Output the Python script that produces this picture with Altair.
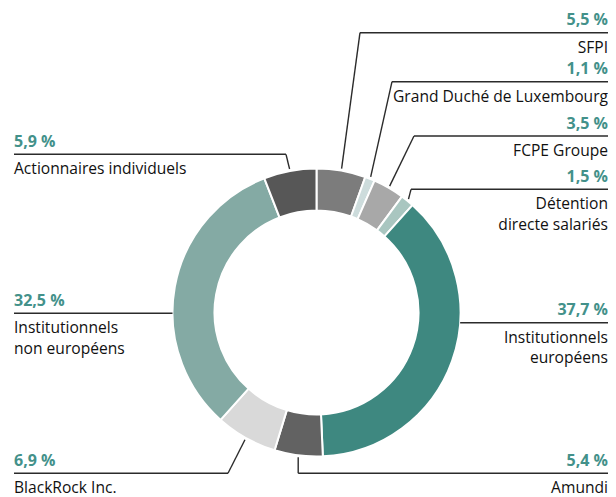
import math
import pandas as pd
import altair as alt

# ---------------- data ----------------
names = ["SFPI", "Grand Duché de Luxembourg", "FCPE Groupe",
         "Détention\ndirecte salariés", "Institutionnels\neuropéens", "Amundi",
         "BlackRock Inc.", "Institutionnels\nnon européens", "Actionnaires individuels"]
values = [5.5, 1.1, 3.5, 1.5, 37.7, 5.4, 6.9, 32.5, 5.9]
colors = ["#7c7c7c", "#cddcdc", "#a8a8a8", "#a9c6c0", "#3e8880",
          "#626262", "#d9d9d9", "#84aaa4", "#575757"]

# ---------------- layout ----------------
W, H = 600, 489
CX, CY = 308.5, 304.5
R_OUT, R_IN = 144, 102
X_LEFT, X_RIGHT = 6, 600
FONT = "Open Sans"
TEAL = "#43918a"

side = ["R", "R", "R", "R", "R", "R", "L", "L", "L"]
line_y = [24.7, 73.7, 128, 181.3, 314.7, 465.3, 465.3, 305.3, 146.3]
leader = ["slant", "slant", "slant", "slant", "horiz", "vert", "slant", "horiz", "slant"]
elbow_x = [352, 384, 406, 403, None, None, 220, None, 278]

total = sum(values)
slices = pd.DataFrame({"key": list(range(len(names))), "value": values})

rules, rtext, ltext = [], [], []
cum = 0.0
for i, v in enumerate(values):
    mid = 2 * math.pi * (cum + v / 2) / total
    cum += v
    ly = line_y[i]
    if leader[i] == "horiz":
        dx = math.sqrt(max(R_OUT ** 2 - (ly - CY) ** 2, 0))
        ex = CX + dx if side[i] == "R" else CX - dx
    else:
        r = R_OUT + 2
        ax, ay = CX + r * math.sin(mid), CY - r * math.cos(mid)
        ex = ax if leader[i] == "vert" else elbow_x[i]
        rules.append({"x": ax, "y": ay, "x2": ex, "y2": ly})
    if side[i] == "R":
        rules.append({"x": ex, "y": ly, "x2": X_RIGHT, "y2": ly})
    else:
        rules.append({"x": X_LEFT, "y": ly, "x2": ex, "y2": ly})
    pct = f"{v:.1f}".replace(".", ",") + " %"
    row = {"tx": X_RIGHT if side[i] == "R" else X_LEFT,
           "py": ly - 7.5, "ny": ly + 20, "pct": pct, "name": names[i]}
    (rtext if side[i] == "R" else ltext).append(row)

rules = pd.DataFrame(rules)
rtext = pd.DataFrame(rtext)
ltext = pd.DataFrame(ltext)

xs = alt.Scale(domain=[0, W], range=[0, W], nice=False, zero=False)
ys = alt.Scale(domain=[0, H], range=[0, H], nice=False, zero=False)

arc = alt.Chart(slices).mark_arc(
    outerRadius=R_OUT, innerRadius=R_IN, stroke="white", strokeWidth=2
).encode(
    theta=alt.Theta("value:Q", stack=True),
    order=alt.Order("key:Q"),
    color=alt.Color("key:N", scale=alt.Scale(domain=list(range(len(names))), range=colors), legend=None),
    x=alt.value(CX), y=alt.value(CY),
)

rule = alt.Chart(rules).mark_rule(color="#2b2b2b", strokeWidth=1.4).encode(
    x=alt.X("x:Q", scale=xs, axis=None), x2="x2:Q",
    y=alt.Y("y:Q", scale=ys, axis=None), y2="y2:Q",
)

def texts(df, align):
    base = alt.Chart(df)
    p = base.mark_text(align=align, baseline="alphabetic", font=FONT, fontSize=16,
                       fontWeight="bold", color=TEAL).encode(
        x=alt.X("tx:Q", scale=xs, axis=None), y=alt.Y("py:Q", scale=ys, axis=None), text="pct:N")
    n = base.mark_text(align=align, baseline="alphabetic", font=FONT, fontSize=15.6,
                       fontWeight=500, color="#111111", lineBreak="\n", lineHeight=20.5).encode(
        x=alt.X("tx:Q", scale=xs, axis=None), y=alt.Y("ny:Q", scale=ys, axis=None), text="name:N")
    return p + n

chart = alt.layer(arc, rule, texts(rtext, "right"), texts(ltext, "left")).properties(
    width=W, height=H, padding=0, autosize=alt.AutoSizeParams(type="none")
).configure_view(stroke=None)

chart.save("out.html", embed_options={"renderer": "svg", "actions": False})
